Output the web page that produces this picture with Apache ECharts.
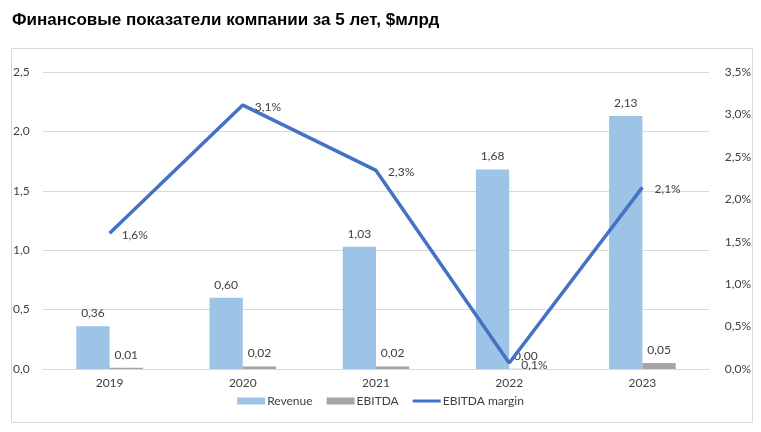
<!DOCTYPE html>
<html><head><meta charset="utf-8">
<script src="https://cdn.jsdelivr.net/npm/echarts@6/dist/echarts.min.js"></script>
<style>html,body{margin:0;padding:0;background:#fff}#c{width:761px;height:432px}</style>
</head><body><div id="c"></div>
<script>
const categories = ['2019','2020','2021','2022','2023'];
const revenue = [0.36, 0.60, 1.03, 1.68, 2.13];
const ebitda = [0.01, 0.02, 0.02, 0.002, 0.05];
const margin = [1.6, 3.11, 2.34, 0.07, 2.14];
const leftTicks = {min: 0, max: 2.5, interval: 0.5};
const rightTicks = {min: 0, max: 3.5, interval: 0.5};
const titleText = 'Финансовые показатели компании за 5 лет, $млрд';

const comma = (v, d) => v.toFixed(d).replace('.', ',');
const font = 'Lato, "Open Sans", sans-serif';
const lbl = {color: '#404040', fontSize: 12, fontFamily: font};

const chart = echarts.init(document.getElementById('c'));
chart.setOption({
  animation: false,
  title: {text: titleText, left: 7, top: 7, textStyle: {fontFamily: '"Liberation Sans", Arial, sans-serif', fontWeight: 'bold', fontSize: 17, color: '#000'}},
  graphic: [{type: 'rect', shape: {x: 11.5, y: 48.5, width: 741, height: 374}, style: {fill: 'none', stroke: '#d9d9d9', lineWidth: 1}, silent: true, z: -1}],
  grid: {left: 43, right: 52, top: 72, bottom: 63},
  legend: {
    bottom: 20, left: 'center', itemGap: 14, itemWidth: 28, itemHeight: 7,
    textStyle: Object.assign({}, lbl, {padding: [0,0,0,-3]}),
    data: [{name: 'Revenue', icon: 'rect'}, {name: 'EBITDA', icon: 'rect'},
           {name: 'EBITDA margin', icon: 'path://M0,0 L28,0 L28,3 L0,3 Z', itemStyle: {color: '#4472c4'}}]
  },
  xAxis: {
    type: 'category', data: categories,
    axisLine: {lineStyle: {color: '#d9d9d9'}}, axisTick: {show: false},
    axisLabel: Object.assign({}, lbl, {margin: 8})
  },
  yAxis: [
    {type: 'value', min: leftTicks.min, max: leftTicks.max, interval: leftTicks.interval,
     axisLabel: Object.assign({}, lbl, {align: 'left', margin: 30, formatter: v => comma(v, 1)}),
     splitLine: {lineStyle: {color: '#d9d9d9'}}, axisLine: {show: false}, axisTick: {show: false}},
    {type: 'value', min: rightTicks.min, max: rightTicks.max, interval: rightTicks.interval,
     axisLabel: Object.assign({}, lbl, {align: 'right', margin: 42, formatter: v => comma(v, 1) + '%'}),
     splitLine: {show: false}, axisLine: {show: false}, axisTick: {show: false}}
  ],
  series: [
    {name: 'Revenue', type: 'bar', data: revenue, barWidth: '25%', barGap: '0%',
     itemStyle: {color: '#9dc3e6'},
     label: Object.assign({show: true, position: 'top', distance: 7, formatter: p => comma(p.value, 2)}, lbl)},
    {name: 'EBITDA', type: 'bar', data: ebitda, barWidth: '25%', barGap: '0%',
     itemStyle: {color: '#a5a5a5'},
     label: Object.assign({show: true, position: 'top', distance: 7, formatter: p => comma(p.value, 2)}, lbl)},
    {name: 'EBITDA margin', type: 'line', yAxisIndex: 1, data: margin, showSymbol: true, symbol: 'circle', symbolSize: 0.1,
     lineStyle: {color: '#4472c4', width: 3.5}, itemStyle: {color: '#4472c4'},
     label: Object.assign({show: true, position: 'right', distance: 12, offset: [0, 2], formatter: p => comma(p.value, 1) + '%'}, lbl),
     z: 3}
  ]
});
</script></body></html>
